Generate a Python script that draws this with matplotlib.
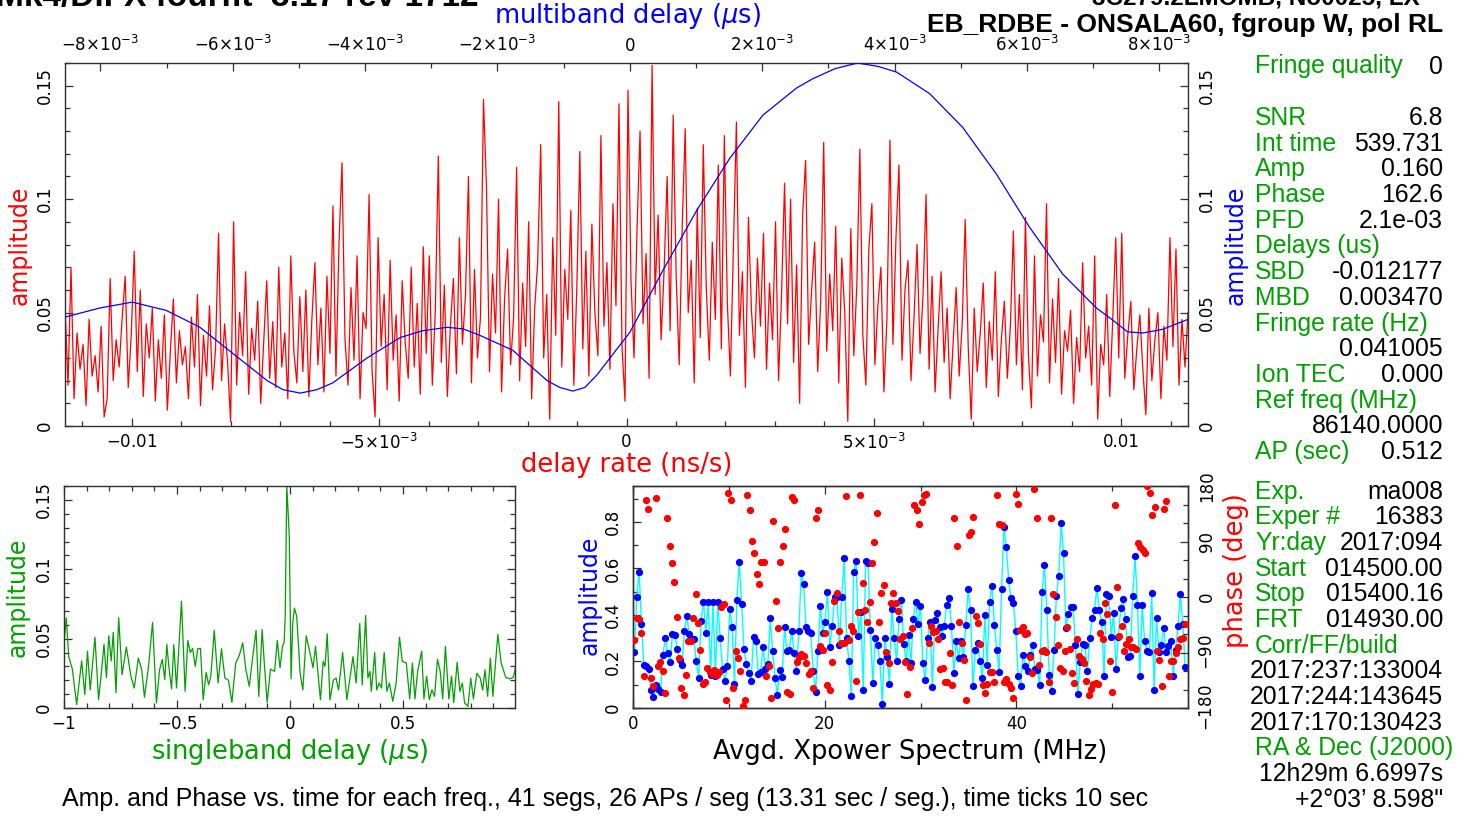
import matplotlib
matplotlib.use("Agg")
import matplotlib.pyplot as plt
import numpy as np
from matplotlib.ticker import MultipleLocator

W, H = 1462, 818
FRAME = "#303030"
RED = "#ff0000"
BLUE = "#0000ff"
CYAN = "#00ffff"
GREEN = "#00a000"
PANEL_FONT = ["Liberation Sans", "DejaVu Sans"]

# delay rate spectrum (ns/s), amplitudes read left to right across the top panel
RATE_LIMITS = (-0.011346, 0.011346)
RATE_AMP = [
    0.053, 0.018, 0.070, 0.012, 0.041, 0.025, 0.036, 0.009, 0.047, 0.022, 0.031, 0.015, 0.044, 0.004, 0.012, 0.065, 0.020, 0.038, 0.026, 0.048,
    0.066, 0.017, 0.040, 0.077, 0.024, 0.060, 0.013, 0.045, 0.030, 0.052, 0.011, 0.038, 0.021, 0.049, 0.007, 0.033, 0.056, 0.019, 0.042, 0.027,
    0.035, 0.012, 0.048, 0.026, 0.058, 0.009, 0.040, 0.022, 0.053, 0.016, 0.034, 0.085, 0.020, 0.045, 0.028, 0.002, 0.090, 0.018, 0.050, 0.031,
    0.068, 0.014, 0.043, 0.029, 0.055, 0.010, 0.037, 0.064, 0.021, 0.046, 0.017, 0.070, 0.026, 0.041, 0.012, 0.075, 0.033, 0.019, 0.057, 0.024,
    0.060, 0.013, 0.047, 0.072, 0.027, 0.052, 0.015, 0.066, 0.032, 0.097, 0.022, 0.080, 0.116, 0.038, 0.018, 0.061, 0.029, 0.075, 0.012, 0.050,
    0.043, 0.102, 0.024, 0.004, 0.083, 0.035, 0.058, 0.016, 0.073, 0.029, 0.049, 0.011, 0.064, 0.037, 0.021, 0.070, 0.026, 0.054, 0.014, 0.079,
    0.032, 0.075, 0.018, 0.051, 0.119, 0.028, 0.062, 0.013, 0.044, 0.065, 0.023, 0.083, 0.036, 0.057, 0.110, 0.019, 0.069, 0.030, 0.048, 0.144,
    0.105, 0.024, 0.067, 0.041, 0.100, 0.015, 0.056, 0.078, 0.027, 0.048, 0.114, 0.020, 0.063, 0.035, 0.090, 0.012, 0.052, 0.072, 0.124, 0.030,
    0.058, 0.003, 0.083, 0.040, 0.143, 0.026, 0.069, 0.047, 0.095, 0.018, 0.061, 0.121, 0.034, 0.077, 0.022, 0.089, 0.050, 0.031, 0.128, 0.044,
    0.072, 0.025, 0.098, 0.053, 0.142, 0.035, 0.011, 0.148, 0.064, 0.030, 0.087, 0.130, 0.045, 0.076, 0.021, 0.159, 0.058, 0.093, 0.038, 0.069,
    0.110, 0.042, 0.137, 0.066, 0.027, 0.088, 0.131, 0.050, 0.073, 0.019, 0.096, 0.039, 0.124, 0.061, 0.029, 0.081, 0.047, 0.115, 0.034, 0.128,
    0.054, 0.022, 0.079, 0.134, 0.040, 0.068, 0.017, 0.092, 0.051, 0.030, 0.074, 0.044, 0.085, 0.025, 0.063, 0.038, 0.090, 0.020, 0.058, 0.107,
    0.045, 0.100, 0.028, 0.071, 0.010, 0.093, 0.117, 0.036, 0.060, 0.081, 0.024, 0.055, 0.125, 0.033, 0.067, 0.042, 0.088, 0.019, 0.074, 0.050,
    0.002, 0.087, 0.031, 0.062, 0.122, 0.040, 0.018, 0.078, 0.098, 0.027, 0.053, 0.070, 0.015, 0.047, 0.126, 0.036, 0.083, 0.115, 0.029, 0.060,
    0.073, 0.020, 0.048, 0.080, 0.032, 0.058, 0.102, 0.025, 0.066, 0.015, 0.043, 0.068, 0.028, 0.052, 0.012, 0.037, 0.061, 0.022, 0.045, 0.091,
    0.035, 0.003, 0.052, 0.024, 0.041, 0.063, 0.017, 0.046, 0.029, 0.068, 0.013, 0.038, 0.055, 0.021, 0.044, 0.086, 0.027, 0.058, 0.016, 0.092,
    0.031, 0.008, 0.075, 0.022, 0.049, 0.037, 0.098, 0.019, 0.056, 0.028, 0.065, 0.014, 0.042, 0.033, 0.051, 0.010, 0.039, 0.024, 0.072, 0.030,
    0.044, 0.018, 0.075, 0.003, 0.036, 0.027, 0.058, 0.013, 0.047, 0.083, 0.030, 0.085, 0.021, 0.040, 0.055, 0.016, 0.034, 0.049, 0.025, 0.005,
    0.052, 0.020, 0.038, 0.050, 0.012, 0.044, 0.029, 0.083, 0.035, 0.078, 0.018, 0.047, 0.026, 0.050,
]
RATE_TICKS = [-0.01, -0.005, 0.0, 0.005, 0.01]
RATE_TICK_LABELS = [r"$-0.01$", r"$-5{\times}10^{-3}$", "0", r"$5{\times}10^{-3}$", "0.01"]

# multiband delay function, delay in units of 1e-3 us
MBD_LIMITS = (-8.535, 8.434)
MBD_DELAY = [-8.535, -8.01, -7.52, -7.01, -6.50, -6.00, -5.48, -5.24, -4.98, -4.73, -4.49, -3.97, -3.47,
             -3.13, -2.76, -2.52, -2.27, -1.77, -1.25, -1.06, -0.86, -0.68, -0.50, 0.00, 0.50, 1.01, 1.51,
             2.01, 2.52, 2.76, 3.10, 3.44, 3.75, 4.03, 4.53, 5.03, 5.54, 6.04, 6.54, 7.05, 7.30, 7.52,
             7.75, 8.05, 8.434]
MBD_AMP = [0.048, 0.052, 0.0546, 0.051, 0.0436, 0.032, 0.020, 0.016, 0.0145, 0.016, 0.019, 0.030, 0.039,
           0.042, 0.0435, 0.0428, 0.040, 0.0334, 0.020, 0.017, 0.0154, 0.017, 0.0224, 0.0413, 0.0686, 0.095,
           0.118, 0.137, 0.149, 0.153, 0.1575, 0.160, 0.1585, 0.156, 0.1465, 0.1316, 0.111, 0.0876, 0.067,
           0.052, 0.0466, 0.0415, 0.041, 0.0426, 0.047]
MBD_TICKS = [-8, -6, -4, -2, 0, 2, 4, 6, 8]
MBD_TICK_LABELS = [r"$-8{\times}10^{-3}$", r"$-6{\times}10^{-3}$", r"$-4{\times}10^{-3}$",
                   r"$-2{\times}10^{-3}$", "0", r"$2{\times}10^{-3}$", r"$4{\times}10^{-3}$",
                   r"$6{\times}10^{-3}$", r"$8{\times}10^{-3}$"]

AMP_TICKS = [0, 0.05, 0.1, 0.15]
AMP_TICK_LABELS = ["0", "0.05", "0.1", "0.15"]

# singleband delay function (us)
SBD_US = [-1.0, -0.99, -0.979, -0.963, -0.944, -0.922, -0.908, -0.896, -0.884, -0.863, -0.847, -0.836,
          -0.823, -0.812, -0.802, -0.791, -0.782, -0.770, -0.758, -0.743, -0.724, -0.704, -0.689, -0.671,
          -0.656, -0.644, -0.626, -0.608, -0.591, -0.577, -0.565, -0.554, -0.545, -0.536, -0.524, -0.514,
          -0.502, -0.480, -0.464, -0.452, -0.441, -0.431, -0.419, -0.408, -0.396, -0.384, -0.371, -0.360,
          -0.350, -0.335, -0.318, -0.303, -0.288, -0.272, -0.257, -0.240, -0.224, -0.209, -0.195, -0.180,
          -0.164, -0.150, -0.138, -0.123, -0.113, -0.101, -0.086, -0.068, -0.056, -0.044, -0.033, -0.026,
          -0.021, -0.014, -0.003, 0.005, 0.012, 0.020, 0.030, 0.045, 0.057, 0.072, 0.087, 0.102, 0.113,
          0.125, 0.135, 0.147, 0.155, 0.165, 0.177, 0.192, 0.204, 0.215, 0.233, 0.252, 0.267, 0.279, 0.293,
          0.309, 0.320, 0.335, 0.345, 0.354, 0.360, 0.368, 0.375, 0.384, 0.395, 0.405, 0.417, 0.429, 0.440,
          0.455, 0.470, 0.485, 0.497, 0.515, 0.530, 0.542, 0.553, 0.565, 0.583, 0.593, 0.605, 0.617, 0.628,
          0.640, 0.653, 0.665, 0.676, 0.688, 0.703, 0.715, 0.725, 0.740, 0.752, 0.763, 0.773, 0.788, 0.800,
          0.812, 0.827, 0.842, 0.853, 0.863, 0.875, 0.887, 0.898, 0.920, 0.935, 0.955, 0.973, 0.988, 0.998]
SBD_AMP = [0.047, 0.065, 0.037, 0.028, 0.0024, 0.034, 0.0096, 0.041, 0.013, 0.051, 0.006, 0.023,
           0.046, 0.022, 0.052, 0.034, 0.0545, 0.011, 0.065, 0.024, 0.044, 0.023, 0.0144, 0.036,
           0.0276, 0.0077, 0.030, 0.0617, 0.0036, 0.0276, 0.035, 0.0204, 0.046, 0.030, 0.0137, 0.0456,
           0.0144, 0.077, 0.012, 0.0487, 0.040, 0.043, 0.030, 0.0427, 0.043, 0.006, 0.0257, 0.0168,
           0.023, 0.056, 0.018, 0.0427, 0.0216, 0.020, 0.004, 0.0324, 0.038, 0.047, 0.0276, 0.0156,
           0.038, 0.056, 0.0084, 0.0565, 0.031, 0.004, 0.028, 0.0264, 0.0487, 0.029, 0.0444, 0.047,
           0.066, 0.160, 0.124, 0.021, 0.061, 0.072, 0.066, 0.025, 0.013, 0.052, 0.041, 0.029, 0.0444,
           0.023, 0.006, 0.0336, 0.030, 0.0535, 0.006, 0.020, 0.0216, 0.013, 0.040, 0.006, 0.023, 0.037, 0.018,
           0.061, 0.0168, 0.0667, 0.0216, 0.0264, 0.012, 0.0264, 0.040, 0.013, 0.018, 0.0144, 0.040, 0.012, 0.018,
           0.0048, 0.018, 0.051, 0.0336, 0.0324, 0.0065, 0.0324, 0.0065, 0.0264, 0.041, 0.0065, 0.023, 0.006, 0.013,
           0.0084, 0.035, 0.0264, 0.0065, 0.0444, 0.0065, 0.023, 0.004, 0.033, 0.012, 0.018, 0.0036, 0.0012, 0.0216,
           0.0065, 0.025, 0.0216, 0.013, 0.0276, 0.0084, 0.036, 0.0084, 0.053, 0.0324, 0.022, 0.021, 0.022, 0.029]
SBD_LIMITS = (-1.0, 0.996)

# averaged cross-power spectrum, amplitude and phase per spectral point (0 - 57.6 MHz)
XPOW_LIMITS = (0.0, 57.9)
XPOW_AMP = [
    0.239, 0.479, 0.583, 0.361, 0.186, 0.179, 0.169, 0.076, 0.047, 0.100,
    0.081, 0.067, 0.229, 0.300, 0.236, 0.196, 0.319, 0.314, 0.253, 0.207,
    0.186, 0.331, 0.397, 0.319, 0.296, 0.296, 0.200, 0.129, 0.376, 0.457,
    0.324, 0.457, 0.143, 0.457, 0.139, 0.457, 0.300, 0.169, 0.114, 0.179,
    0.426, 0.350, 0.103, 0.464, 0.629, 0.446, 0.254, 0.189, 0.150, 0.114,
    0.307, 0.286, 0.147, 0.156, 0.261, 0.169, 0.190, 0.386, 0.247, 0.129,
    0.057, 0.164, 0.133, 0.346, 0.243, 0.250, 0.333, 0.236, 0.157, 0.329,
    0.581, 0.531, 0.350, 0.329, 0.321, 0.160, 0.069, 0.243, 0.440, 0.324,
    0.369, 0.500, 0.264, 0.354, 0.479, 0.479, 0.271, 0.479, 0.643, 0.300,
    0.204, 0.050, 0.586, 0.631, 0.309, 0.414, 0.079, 0.631, 0.621, 0.336,
    0.107, 0.300, 0.271, 0.200, 0.017, 0.300, 0.221, 0.103, 0.424,
    0.300, 0.200, 0.381, 0.464, 0.276, 0.200, 0.314, 0.193, 0.381, 0.457,
    0.361, 0.439, 0.193, 0.119, 0.300, 0.371, 0.090, 0.379, 0.407, 0.350,
    0.311, 0.353, 0.443, 0.471, 0.353, 0.150, 0.286, 0.214, 0.290, 0.219,
    0.357, 0.510, 0.421, 0.093, 0.250, 0.279, 0.200, 0.129, 0.400, 0.186,
    0.457, 0.526, 0.357, 0.250, 0.154, 0.510, 0.776, 0.693, 0.550, 0.471,
    0.450, 0.329, 0.136, 0.093, 0.226, 0.179, 0.157, 0.229, 0.271, 0.169,
    0.164, 0.100, 0.497, 0.614, 0.421, 0.143, 0.071, 0.250, 0.481, 0.567,
    0.796, 0.664, 0.343, 0.404, 0.436, 0.436, 0.271, 0.060, 0.196, 0.276,
    0.269, 0.157, 0.300, 0.386, 0.421, 0.517, 0.419, 0.371, 0.136, 0.490,
    0.481, 0.307, 0.407, 0.167, 0.307, 0.429, 0.467, 0.383, 0.219, 0.224,
    0.481, 0.653, 0.443, 0.136, 0.443, 0.290, 0.243, 0.239, 0.493, 0.076,
    0.386, 0.240, 0.271, 0.343, 0.239, 0.267, 0.286, 0.139, 0.250, 0.353,
    0.490, 0.361, 0.176,
]
XPOW_PHASE = [
    -69.5, -33.4, -35.6, -57.7, -128.8, 156.8, 143.4, -131.5, -145.0, 160.6,
    -112.7, -105.6, -119.7, -155.8, 128.3, 82.5, 55.5, 24.8, -32.9, -99.7,
    -147.7, -158.4, -126.7, -71.1, -71.1, -33.4, 4.3, -41.5, -85.7, -141.2,
    -138.5, -115.9, -121.8, -125.0, -118.0, -126.1, -121.3, -15.6, -11.3, -166.6,
    169.2, 157.9, -147.7, -87.3, -99.2, -120.7, -177.3, -166.6, 166.0, 140.7,
    91.1, 71.7, 36.7, 20.5, 57.1, 56.1, -127.7, -112.7, -163.9, 122.9,
    -5.9, -49.6, 57.1, 82.5, 111.0, -154.7, -157.4, 161.7, 157.9, -106.2,
    -98.1, -92.7, -94.9, -107.3, -124.5, -120.7, -147.7, 128.8, 140.7, -79.2,
    -85.7, -58.8, -142.3, -150.4, -106.2, -6.5, 7.0, -55.0, -73.8, -73.8,
    163.3, -69.5, -46.9, -55.5, -136.9, -23.7, 166.0, 23.2, -21.0, -39.9,
    -7.5, 54.4, 88.4, 136.9, -40.4, 5.9, 19.4, -89.5,
    -107.3, -10.2, 5.9, -10.2, -22.6, -67.9, -62.5, -106.2, -156.8, -113.7,
    -49.6, 148.8, 140.7, 119.1, 154.2, 164.9, 167.6, -74.9, -46.4, -57.1,
    -55.0, -67.9, -117.0, -115.9, -138.5, -138.5, -91.1, -142.3, 128.3, 81.9,
    -41.0, -74.9, -101.9, -166.6, 100.3, 105.6, 129.9, -30.2, -42.6, -76.0,
    -142.3, -155.8, -140.7, -121.8, -121.8, -138.5, 165.5, 119.1, 116.4, -137.4,
    -133.1, -141.2, -147.7, -163.3, 167.6, 150.9, -53.4, -48.5, -60.4, -58.8,
    -98.1, -123.4, 175.7, 127.7, -110.0, -87.9, -85.7, -89.5, -137.4, 128.3,
    4.9, -31.8, -77.6, -115.3, -120.2, -86.8, -48.0, -84.1, -123.4, -139.6,
    -68.5, -95.4, -100.3, -107.3, -135.8, -158.5, -149.3, -141.2, -139.6, -140.7,
    -58.8, -67.4, -9.2, -28.0, -103.5, -154.7, 148.8, 15.6, -62.5, -46.9,
    -87.3, -75.5, -68.5, -80.3, -81.4, -84.1, 87.9, 81.4, 76.0, 71.7,
    179.5, 168.2, 133.7, 146.1, -87.9, -101.9, -145.0, 143.4, 155.8, -128.8,
    -103.0, -103.5, -91.1, -81.4, -67.9, -66.8, -43.7,
]
XPOW_FREQ_RANGE = (0.14, 57.6)

FIT_SUMMARY = [
    ("Fringe quality", "0"), None,
    ("SNR", "6.8"), ("Int time", "539.731"), ("Amp", "0.160"), ("Phase", "162.6"),
    ("PFD", "2.1e-03"), ("Delays (us)", ""), ("SBD", "-0.012177"), ("MBD", "0.003470"),
    ("Fringe rate (Hz)", ""), ("", "0.041005"), ("Ion TEC", "0.000"), ("Ref freq (MHz)", ""),
    ("", "86140.0000"), ("AP (sec)", "0.512"),
]
SCAN_INFO = [
    ("Exp.", "ma008"), ("Exper #", "16383"), ("Yr:day", "2017:094"), ("Start", "014500.00"),
    ("Stop", "015400.16"), ("FRT", "014930.00"), ("Corr/FF/build", ""), ("", "2017:237:133004"),
    ("", "2017:244:143645"), ("", "2017:170:130423"), ("RA & Dec (J2000)", ""),
    ("", "12h29m 6.6997s"), ("", "+2\u00b003\u2019 8.598\""),
]


def _rect(left, top, right, bottom):
    return [left / W, 1 - bottom / H, (right - left) / W, (bottom - top) / H]


def _frame(ax):
    for spine in ax.spines.values():
        spine.set_color(FRAME)
        spine.set_linewidth(1.0)
    ax.tick_params(which="both", direction="in", color=FRAME, labelsize=12, labelcolor="black")
    ax.tick_params(which="major", length=6, width=0.9)
    ax.tick_params(which="minor", length=3.5, width=0.9)


def _label(x, y, text, color, rotation=0, size=18.5):
    plt.gcf().text(x / W, 1 - y / H, text, color=color, rotation=rotation, fontsize=size,
                   ha="center", va="center")


fig = plt.figure(figsize=(W / 100, H / 100), dpi=100)

# top panel: delay rate (red) with multiband delay (blue) on the twin axes
top_rect = _rect(65, 63, 1188, 426)
ax_rate = fig.add_axes(top_rect)
ax_rate.plot(np.linspace(*RATE_LIMITS, len(RATE_AMP)), RATE_AMP, color=RED, lw=0.9)
ax_rate.set_xlim(*RATE_LIMITS)
ax_rate.set_ylim(0, 0.16)
_frame(ax_rate)
ax_rate.set_xticks(RATE_TICKS, RATE_TICK_LABELS)
ax_rate.xaxis.set_minor_locator(MultipleLocator(0.001))
ax_rate.set_yticks(AMP_TICKS, AMP_TICK_LABELS, rotation=90, va="center")
ax_rate.yaxis.set_minor_locator(MultipleLocator(0.01))
ax_rate.tick_params(top=False, right=False, which="both")
ax_rate.tick_params(axis="x", pad=5)
ax_rate.tick_params(axis="y", pad=8)

ax_mbd = fig.add_axes(top_rect, frameon=False)
ax_mbd.patch.set_visible(False)
ax_mbd.plot(MBD_DELAY, MBD_AMP, color=BLUE, lw=0.9)
ax_mbd.set_xlim(*MBD_LIMITS)
ax_mbd.set_ylim(0, 0.16)
_frame(ax_mbd)
ax_mbd.xaxis.tick_top()
ax_mbd.yaxis.tick_right()
ax_mbd.set_xticks(MBD_TICKS, MBD_TICK_LABELS)
ax_mbd.xaxis.set_minor_locator(MultipleLocator(1))
ax_mbd.set_yticks(AMP_TICKS, AMP_TICK_LABELS, rotation=90, va="center")
ax_mbd.yaxis.set_minor_locator(MultipleLocator(0.01))
ax_mbd.tick_params(axis="x", pad=6)
ax_mbd.tick_params(axis="y", pad=7)

_label(20, 245, "amplitude", RED, rotation=90, size=17)
_label(1236, 245, "amplitude", BLUE, rotation=90, size=17)
_label(627, 465, "delay rate (ns/s)", RED)
_label(627, 16, r"multiband delay ($\mu$s)", BLUE)

# bottom left: singleband delay
ax_sbd = fig.add_axes(_rect(64, 486, 515, 708))
ax_sbd.plot(SBD_US, SBD_AMP, color=GREEN, lw=0.9)
ax_sbd.set_xlim(*SBD_LIMITS)
ax_sbd.set_ylim(0, 0.16)
_frame(ax_sbd)
ax_sbd.tick_params(which="both", top=True, right=True)
ax_sbd.set_xticks([-1, -0.5, 0, 0.5], [r"$-1$", r"$-0.5$", "0", "0.5"])
ax_sbd.xaxis.set_minor_locator(MultipleLocator(0.1))
ax_sbd.set_yticks(AMP_TICKS, AMP_TICK_LABELS, rotation=90, va="center")
ax_sbd.yaxis.set_minor_locator(MultipleLocator(0.01))
ax_sbd.tick_params(axis="x", pad=5)
ax_sbd.tick_params(axis="y", pad=8)
_label(18, 597, "amplitude", GREEN, rotation=90, size=17)
_label(290, 752, r"singleband delay ($\mu$s)", GREEN)

# bottom right: averaged cross-power spectrum
ax_amp = fig.add_axes(_rect(633, 486, 1188, 708))
freq_amp = np.linspace(*XPOW_FREQ_RANGE, len(XPOW_AMP))
freq_phase = np.linspace(*XPOW_FREQ_RANGE, len(XPOW_PHASE))
ax_amp.plot(freq_amp, XPOW_AMP, color=CYAN, lw=1.0, zorder=2)
ax_amp.plot(freq_amp, XPOW_AMP, ls="none", marker="o", ms=4.2, mfc=BLUE, mec=BLUE, zorder=3)
ax_amp.set_xlim(*XPOW_LIMITS)
ax_amp.set_ylim(0, 0.954)
_frame(ax_amp)
ax_amp.tick_params(which="both", top=True, right=False)
ax_amp.set_xticks([0, 20, 40], ["0", "20", "40"])
ax_amp.xaxis.set_minor_locator(MultipleLocator(10))
ax_amp.set_yticks([0, 0.2, 0.4, 0.6, 0.8], ["0", "0.2", "0.4", "0.6", "0.8"], rotation=90, va="center")
ax_amp.yaxis.set_minor_locator(MultipleLocator(0.1))
ax_amp.tick_params(axis="x", pad=5)
ax_amp.tick_params(axis="y", pad=8)

ax_phase = ax_amp.twinx()
ax_phase.plot(freq_phase, XPOW_PHASE, ls="none", marker="o", ms=4.2, mfc=RED, mec=RED, zorder=4)
ax_phase.set_ylim(-180, 180)
_frame(ax_phase)
ax_phase.set_yticks([-180, -90, 0, 90, 180], [r"$-180$", r"$-90$", "0", "90", "180"], rotation=90, va="center")
ax_phase.yaxis.set_minor_locator(MultipleLocator(30))
ax_phase.tick_params(axis="y", pad=7)

_label(590, 595, "amplitude", BLUE, rotation=90, size=17)
_label(1236, 571, "phase (deg)", RED, rotation=90)
_label(910, 752, "Avgd. Xpower Spectrum (MHz)", "black")

# header lines (clipped by the top edge, as in the original)
fig.text(-4 / W, 1 - 6 / H, "Mk4/DiFX fourfit  3.17 rev 1712", fontsize=24, fontweight="bold",
         family=PANEL_FONT, ha="left", va="baseline")
fig.text(1420 / W, 1 - 5 / H, "3C279.2LMOMB, No0025, LX", fontsize=17.5, fontweight="bold",
         family=PANEL_FONT, ha="right", va="baseline")
fig.text(1443 / W, 1 - 32 / H, "EB_RDBE - ONSALA60, fgroup W, pol RL", fontsize=19,
         fontweight="bold", family=PANEL_FONT, ha="right", va="baseline")

# fit summary panel on the right
for block, base in ((FIT_SUMMARY, 73.5), (SCAN_INFO, 498.5)):
    for k, row in enumerate(block):
        if row is None:
            continue
        name, value = row
        y = 1 - (base + 25.7 * k) / H
        if name:
            fig.text(1255 / W, y, name, color=GREEN, fontsize=17.8, family=PANEL_FONT,
                     ha="left", va="baseline")
        if value:
            fig.text(1443 / W, y, value, color="black", fontsize=17.8, family=PANEL_FONT,
                     ha="right", va="baseline")

fig.text(605 / W, 1 - 806 / H,
         "Amp. and Phase vs. time for each freq., 41 segs, 26 APs / seg (13.31 sec / seg.), time ticks 10 sec",
         fontsize=18, family=PANEL_FONT, ha="center", va="baseline")

fig.savefig("out.png", dpi=100)
